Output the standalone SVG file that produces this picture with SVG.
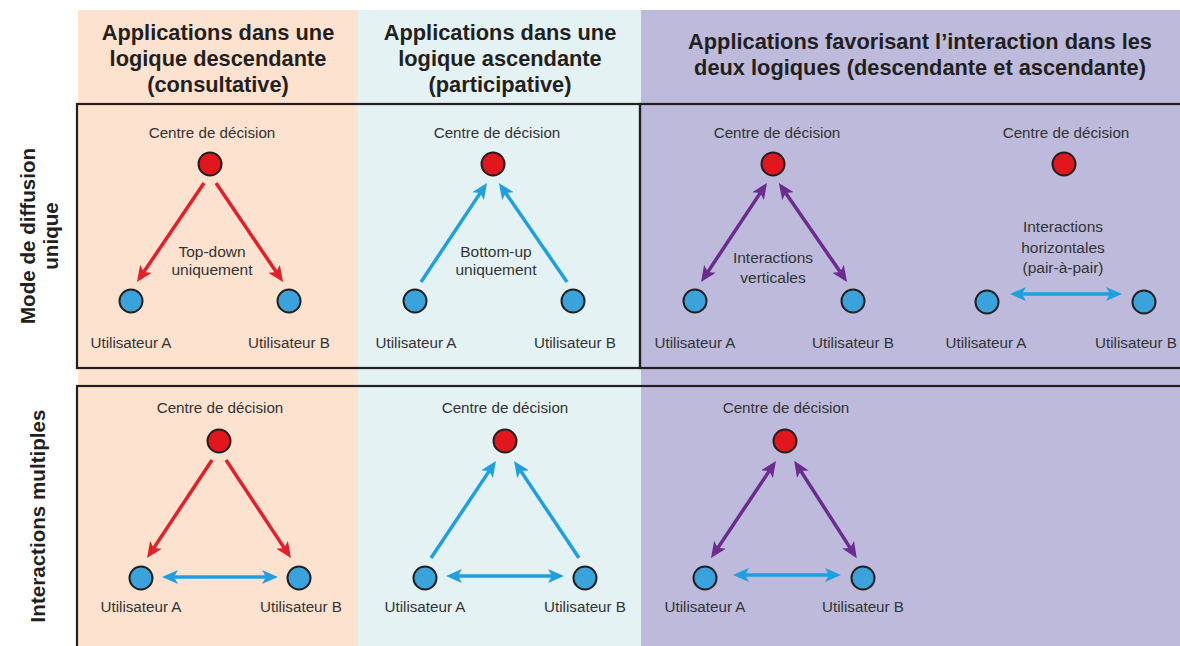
<svg xmlns="http://www.w3.org/2000/svg" width="1180" height="646" viewBox="0 0 1180 646">
<style>
.hdr{font-family:"Liberation Sans",Arial,sans-serif;font-weight:bold;font-size:21.8px;fill:#231f20;text-anchor:middle}
.side{font-family:"Liberation Sans",Arial,sans-serif;font-weight:bold;font-size:20.6px;fill:#231f20;text-anchor:middle}
.lbl{font-family:"Liberation Sans",Arial,sans-serif;font-size:15.5px;fill:#333333;text-anchor:middle}
.ctr{font-family:"Liberation Sans",Arial,sans-serif;font-size:15.2px;fill:#333333;text-anchor:middle}
.red{fill:#e2161d;stroke:#231f20;stroke-width:2}
.usr{fill:#3ba3dc;stroke:#231f20;stroke-width:2}
.box{fill:none;stroke:#231f20;stroke-width:2.2}
.ar{fill:none;stroke-width:3.5}
.ar-r{stroke:#e3202a;marker-end:url(#mr)}
.ar-b{stroke:#1ea0e0;marker-end:url(#mb)}
.ar-b2{stroke:#1ea0e0;marker-end:url(#mb);marker-start:url(#mb)}
.ar-p2{stroke:#6b2b8f;marker-end:url(#mp);marker-start:url(#mp)}
</style>
<defs>
<marker id="mr" viewBox="0 0 16 14" refX="4" refY="7" markerWidth="16" markerHeight="14" markerUnits="userSpaceOnUse" orient="auto-start-reverse"><path d="M0,0 L16,7 L0,14 L4,7 z" fill="#e3202a"/></marker>
<marker id="mb" viewBox="0 0 16 14" refX="4" refY="7" markerWidth="16" markerHeight="14" markerUnits="userSpaceOnUse" orient="auto-start-reverse"><path d="M0,0 L16,7 L0,14 L4,7 z" fill="#1ea0e0"/></marker>
<marker id="mp" viewBox="0 0 16 14" refX="4" refY="7" markerWidth="16" markerHeight="14" markerUnits="userSpaceOnUse" orient="auto-start-reverse"><path d="M0,0 L16,7 L0,14 L4,7 z" fill="#6b2b8f"/></marker>
</defs>
<rect width="1180" height="646" fill="#ffffff"/>
<g id="columns">
<rect x="78" y="10" width="280" height="636" fill="#fde2cf"/>
<rect x="358" y="10" width="283" height="636" fill="#e4f2f4"/>
<rect x="641" y="10" width="539" height="636" fill="#bdbadb"/>
</g>
<g id="headers">
<text class="hdr" x="218" y="40">Applications dans une</text>
<text class="hdr" x="218" y="66">logique descendante</text>
<text class="hdr" x="218" y="92">(consultative)</text>
<text class="hdr" x="500" y="40">Applications dans une</text>
<text class="hdr" x="500" y="66">logique ascendante</text>
<text class="hdr" x="500" y="92">(participative)</text>
<text class="hdr" x="920" y="49">Applications favorisant l’interaction dans les</text>
<text class="hdr" x="920" y="75">deux logiques (descendante et ascendante)</text>
</g>
<g id="row-labels">
<text class="side" transform="translate(35,236) rotate(-90)">Mode de diffusion</text>
<text class="side" transform="translate(58,236) rotate(-90)">unique</text>
<text class="side" transform="translate(45,516) rotate(-90)">Interactions multiples</text>
</g>
<g id="frames">
<rect class="box" x="77" y="104" width="563" height="264"/>
<rect class="box" x="640" y="104" width="545" height="264"/>
<rect class="box" x="77" y="386" width="1110" height="266"/>
</g>
<g id="connectors">
<line class="ar ar-r" x1="204" y1="183" x2="143.7" y2="272.1"/>
<line class="ar ar-r" x1="216" y1="183" x2="276.3" y2="272.1"/>
<line class="ar ar-b" x1="421" y1="282" x2="480.3" y2="192.9"/>
<line class="ar ar-b" x1="567" y1="282" x2="505.7" y2="192.9"/>
<line class="ar ar-p2" x1="707.7" y1="272.1" x2="760.3" y2="192.9"/>
<line class="ar ar-p2" x1="785.7" y1="192.9" x2="840.3" y2="272.1"/>
<line class="ar ar-b2" x1="1022" y1="294" x2="1110" y2="294"/>
<line class="ar ar-r" x1="212" y1="460" x2="153.7" y2="548.1"/>
<line class="ar ar-r" x1="226" y1="460" x2="284.3" y2="548.1"/>
<line class="ar ar-b2" x1="174" y1="577" x2="266" y2="577"/>
<line class="ar ar-b" x1="431" y1="558" x2="489.3" y2="470.9"/>
<line class="ar ar-b" x1="579" y1="558" x2="520.7" y2="470.9"/>
<line class="ar ar-b2" x1="458" y1="576" x2="552" y2="576"/>
<line class="ar ar-p2" x1="717.7" y1="548.1" x2="769.3" y2="470.9"/>
<line class="ar ar-p2" x1="800.7" y1="470.9" x2="850.3" y2="548.1"/>
<line class="ar ar-b2" x1="745" y1="575" x2="829" y2="575"/>
</g>
<g id="edge-labels">
<text class="lbl" x="212" y="257">Top-down</text>
<text class="lbl" x="212" y="275">uniquement</text>
<text class="lbl" x="496" y="257">Bottom-up</text>
<text class="lbl" x="496" y="275">uniquement</text>
<text class="lbl" x="773" y="263">Interactions</text>
<text class="lbl" x="773" y="283">verticales</text>
<text class="lbl" x="1063" y="232">Interactions</text>
<text class="lbl" x="1063" y="253">horizontales</text>
<text class="lbl" x="1063" y="273">(pair-à-pair)</text>
</g>
<g id="r1c1">
<text class="ctr" x="212" y="138">Centre de décision</text>
<circle class="red" cx="210" cy="164" r="11.5"/>
<circle class="usr" cx="131" cy="301" r="11.5"/>
<circle class="usr" cx="289" cy="301" r="11.5"/>
<text class="ctr" x="131" y="348">Utilisateur A</text>
<text class="ctr" x="289" y="348">Utilisateur B</text>
</g>
<g id="r1c2">
<text class="ctr" x="497" y="138">Centre de décision</text>
<circle class="red" cx="493" cy="164" r="11.5"/>
<circle class="usr" cx="415" cy="301" r="11.5"/>
<circle class="usr" cx="573" cy="301" r="11.5"/>
<text class="ctr" x="416" y="348">Utilisateur A</text>
<text class="ctr" x="575" y="348">Utilisateur B</text>
</g>
<g id="r1c3">
<text class="ctr" x="777" y="138">Centre de décision</text>
<circle class="red" cx="773" cy="164" r="11.5"/>
<circle class="usr" cx="695" cy="301" r="11.5"/>
<circle class="usr" cx="853" cy="301" r="11.5"/>
<text class="ctr" x="695" y="348">Utilisateur A</text>
<text class="ctr" x="853" y="348">Utilisateur B</text>
</g>
<g id="r1c4">
<text class="ctr" x="1066" y="138">Centre de décision</text>
<circle class="red" cx="1064" cy="164" r="11.5"/>
<circle class="usr" cx="987" cy="302" r="11.5"/>
<circle class="usr" cx="1144" cy="302" r="11.5"/>
<text class="ctr" x="986" y="348">Utilisateur A</text>
<text class="ctr" x="1136" y="348">Utilisateur B</text>
</g>
<g id="r2c1">
<text class="ctr" x="220" y="413">Centre de décision</text>
<circle class="red" cx="219" cy="441" r="11.5"/>
<circle class="usr" cx="141" cy="578" r="11.5"/>
<circle class="usr" cx="299" cy="578" r="11.5"/>
<text class="ctr" x="141" y="612">Utilisateur A</text>
<text class="ctr" x="301" y="612">Utilisateur B</text>
</g>
<g id="r2c2">
<text class="ctr" x="505" y="413">Centre de décision</text>
<circle class="red" cx="505" cy="441" r="11.5"/>
<circle class="usr" cx="425" cy="578" r="11.5"/>
<circle class="usr" cx="585" cy="578" r="11.5"/>
<text class="ctr" x="425" y="612">Utilisateur A</text>
<text class="ctr" x="585" y="612">Utilisateur B</text>
</g>
<g id="r2c3">
<text class="ctr" x="786" y="413">Centre de décision</text>
<circle class="red" cx="785" cy="441" r="11.5"/>
<circle class="usr" cx="705" cy="578" r="11.5"/>
<circle class="usr" cx="863" cy="578" r="11.5"/>
<text class="ctr" x="705" y="612">Utilisateur A</text>
<text class="ctr" x="863" y="612">Utilisateur B</text>
</g>
</svg>
